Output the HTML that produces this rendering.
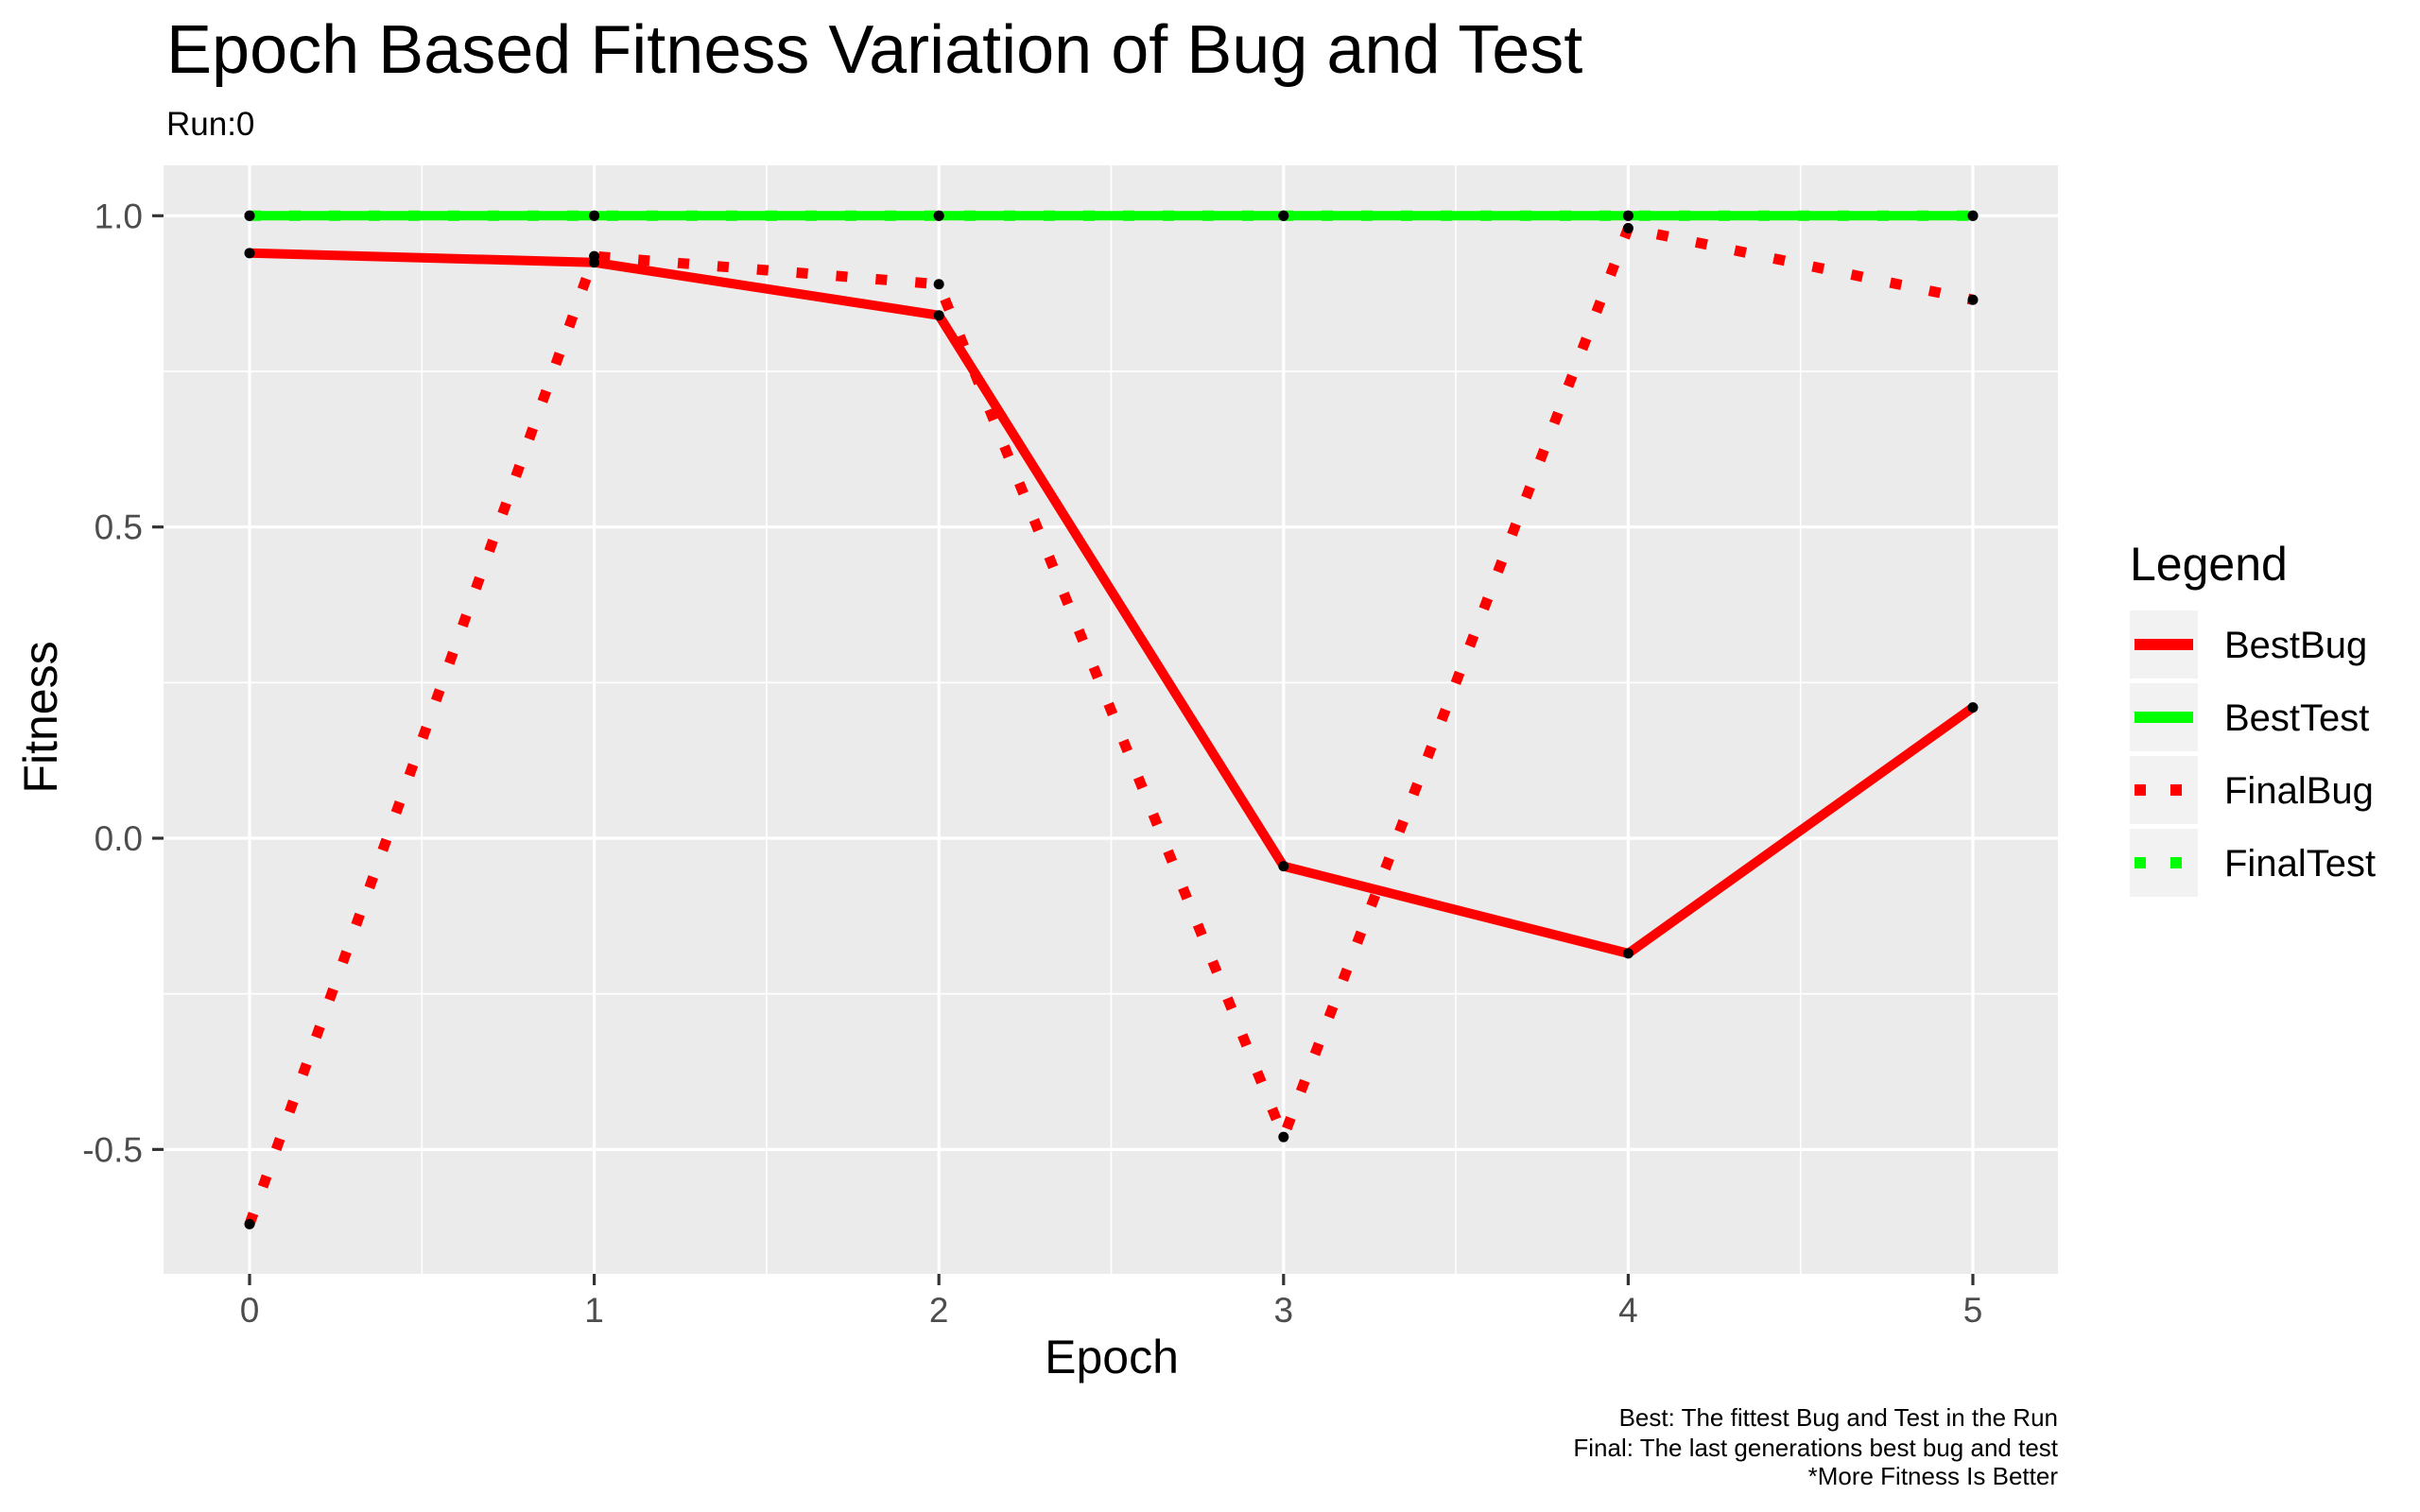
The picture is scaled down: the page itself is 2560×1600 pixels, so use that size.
<!DOCTYPE html>
<html><head><meta charset="utf-8"><style>
html,body{margin:0;padding:0;background:#fff;}
svg{display:block;font-family:"Liberation Sans",sans-serif;}
</style></head><body>
<svg id="chart" width="2560" height="1600" viewBox="0 0 2560 1600">
<text x="176" y="77" font-size="72" fill="#000">Epoch Based Fitness Variation of Bug and Test</text>
<text x="176" y="143" font-size="35" fill="#000">Run:0</text>
<rect x="173" y="175" width="2004" height="1173" fill="#ebebeb"/>
<g id="grid"></g>
<g id="axes"></g>
<g id="series"></g>
<text x="1176" y="1453" font-size="50" text-anchor="middle" fill="#000">Epoch</text>
<text transform="translate(60,759) rotate(-90)" font-size="50" text-anchor="middle" fill="#000">Fitness</text>
<text x="2253" y="614" font-size="50" fill="#000">Legend</text>
<g id="legend"></g>
<g font-size="26" text-anchor="end" fill="#000">
<text x="2177" y="1509">Best: The fittest Bug and Test in the Run</text>
<text x="2177" y="1541">Final: The last generations best bug and test</text>
<text x="2177" y="1571">*More Fitness Is Better</text>
</g>
</svg>
<script>
const epochs = [0,1,2,3,4,5];
const bestBug = [0.94,0.925,0.84,-0.045,-0.185,0.21];
const bestTest = [1,1,1,1,1,1];
const finalBug = [-0.62,0.935,0.89,-0.48,0.98,0.865];
const finalTest = [1,1,1,1,1,1];
const xTicks = [0,1,2,3,4,5];
const yTicks = [-0.5,0,0.5,1];
const yTickLabels = ["-0.5","0.0","0.5","1.0"];
const seriesNames = ["BestBug","BestTest","FinalBug","FinalTest"];

const NS="http://www.w3.org/2000/svg";
const X0=264, XU=364.6, Y0=887, YU=658.7;
const PL=173, PR=2177, PT=175, PB=1348;
function sx(v){return X0+XU*v;}
function sy(v){return Y0-YU*v;}
function mk(tag,attrs,parent){const e=document.createElementNS(NS,tag);for(const k in attrs)e.setAttribute(k,attrs[k]);parent.appendChild(e);return e;}

const grid=document.getElementById('grid');
for(let i=0;i<xTicks.length-1;i++){const m=(xTicks[i]+xTicks[i+1])/2;
 const l=mk('line',{x1:sx(m),x2:sx(m),y1:PT,y2:PB,stroke:'#fff','stroke-width':1.6},grid);
 
 }
for(let i=0;i<yTicks.length;i++){const m=yTicks[i]-0.25;
 const l=mk('line',{x1:PL,x2:PR,y1:sy(m),y2:sy(m),stroke:'#fff','stroke-width':1.6},grid);
 
 }
{const m=yTicks[yTicks.length-1]+0.25; if(sy(m)>PT){const l=mk('line',{x1:PL,x2:PR,y1:sy(m),y2:sy(m),stroke:'#fff','stroke-width':1.6},grid);
 
 }}
const axes=document.getElementById('axes');
xTicks.forEach(t=>{
 const l=mk('line',{x1:sx(t),x2:sx(t),y1:PT,y2:PB,stroke:'#fff','stroke-width':3.2},grid);
 
 
 const tk=mk('line',{x1:sx(t),x2:sx(t),y1:PB,y2:PB+12,stroke:'#333','stroke-width':3.2},axes);
 
 
 const tx=mk('text',{x:sx(t),y:1399,'font-size':37,'text-anchor':'middle',fill:'#4d4d4d'},axes);
 tx.textContent=String(t);
 
 
});
yTicks.forEach((t,i)=>{
 const l=mk('line',{x1:PL,x2:PR,y1:sy(t),y2:sy(t),stroke:'#fff','stroke-width':3.2},grid);
 
 
 const tk=mk('line',{x1:PL-12,x2:PL,y1:sy(t),y2:sy(t),stroke:'#333','stroke-width':3.2},axes);
 
 
 const tx=mk('text',{x:151,y:sy(t)+13,'font-size':37,'text-anchor':'end',fill:'#4d4d4d'},axes);
 tx.textContent=yTickLabels[i];
 
 
});

const styles=[
 {vals:bestBug,color:'#ff0000',dash:null,name:'best-bug-line'},
 {vals:bestTest,color:'#00ff00',dash:null,name:'best-test-line'},
 {vals:finalBug,color:'#ff0000',dash:'12 30',name:'final-bug-line'},
 {vals:finalTest,color:'#00ff00',dash:'12 30',name:'final-test-line'}];
const series=document.getElementById('series');
styles.forEach(s=>{
 const d=s.vals.map((v,i)=>(i?'L':'M')+sx(epochs[i]).toFixed(1)+','+sy(v).toFixed(1)).join(' ');
 const a={d:d,fill:'none',stroke:s.color,'stroke-width':10,'stroke-linejoin':'round'};
 if(s.dash){a['stroke-dasharray']=s.dash;a['stroke-width']=11;}
 const p=mk('path',a,series);
 
 
});
styles.forEach(s=>{
 s.vals.forEach((v,i)=>{
  const c=mk('circle',{cx:sx(epochs[i]),cy:sy(v),r:5.5,fill:'#000'},series);
  
  
 });
});

const legend=document.getElementById('legend');
const rowTops=[646,723,800,877];
styles.forEach((s,i)=>{
 const g=mk('g',{},legend);
 
 
 const top=rowTops[i];
 mk('rect',{x:2253,y:top,width:72,height:72,fill:'#f2f2f2'},g);
 const a={x1:2258,x2:2320,y1:top+36,y2:top+36,stroke:s.color,'stroke-width':12};
 if(s.dash)a['stroke-dasharray']='12 26';
 mk('line',a,g);
 const t=mk('text',{x:2353,y:top+50,'font-size':40,fill:'#000'},g);
 t.textContent=seriesNames[i];
});
</script>
</body></html>
